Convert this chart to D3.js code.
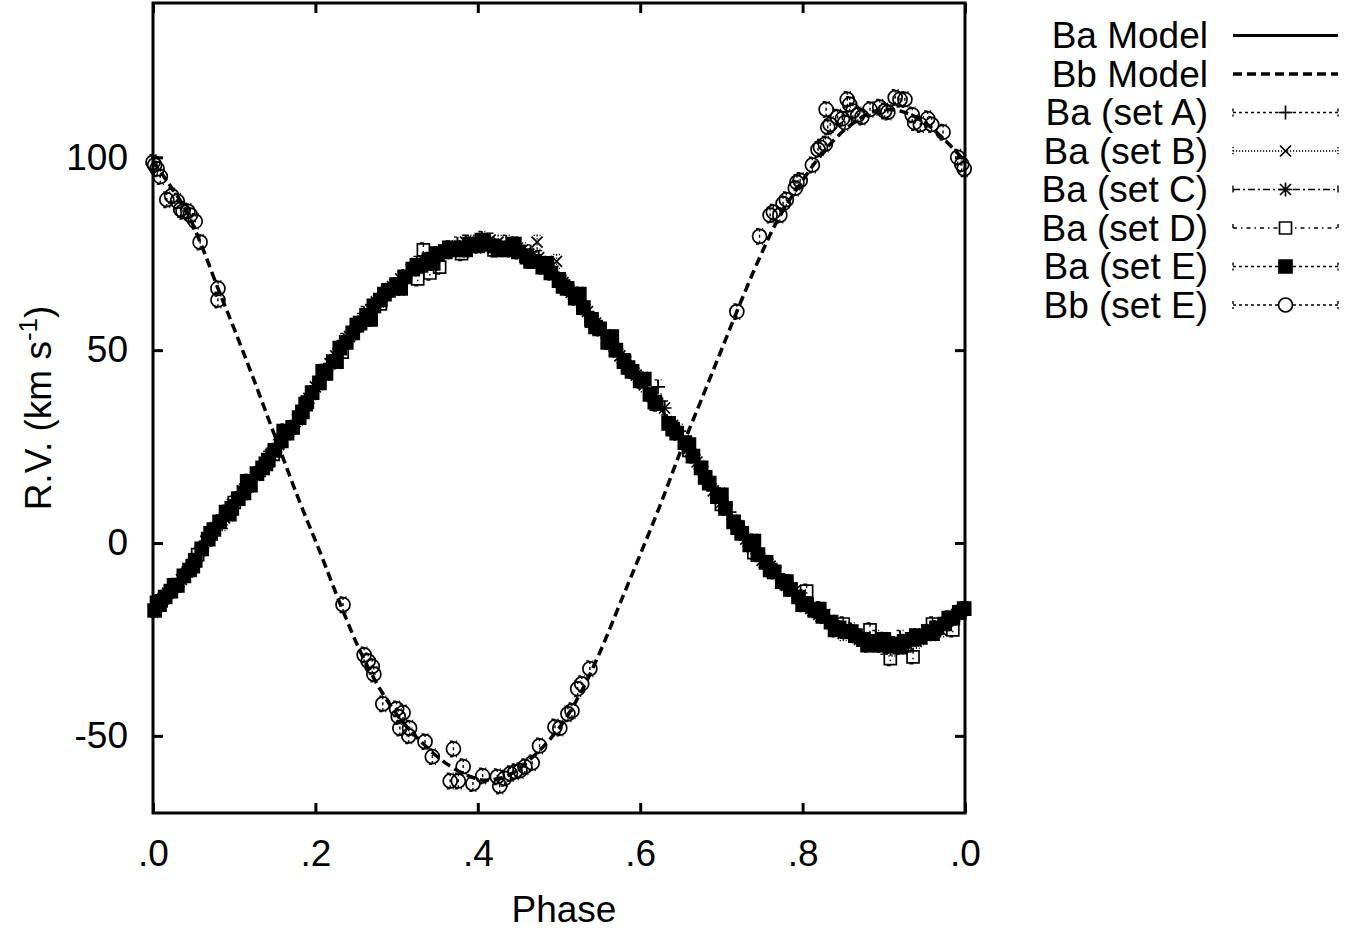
<!DOCTYPE html>
<html>
<head>
<meta charset="utf-8">
<title>Ba / Bb radial velocities</title>
<script src="https://cdnjs.cloudflare.com/ajax/libs/d3/7.8.5/d3.min.js"></script>
<style>
  body { margin: 0; background: #fff; }
  svg text { font-family: "Liberation Sans", Arial, Helvetica, sans-serif; fill: #000; }
</style>
</head>
<body>
<div id="chart"></div>
<script>
// ---------- values ----------
var xTicks = [0, 0.2, 0.4, 0.6, 0.8, 1.0];
var xTickLabels = [".0", ".2", ".4", ".6", ".8", ".0"];
var yTicks = [-50, 0, 50, 100];

var legendNames = ["Ba Model", "Bb Model", "Ba (set A)", "Ba (set B)", "Ba (set C)", "Ba (set D)", "Ba (set E)", "Bb (set E)"];

// model curves
var baModel_phase = [0.00,0.025,0.05,0.075,0.10,0.125,0.154,0.18,0.205,0.23,0.255,0.28,0.304,0.33,0.36,0.39,0.41,0.44,0.47,0.50,0.525,0.55,0.575,0.60,0.625,0.651,0.675,0.698,0.72,0.745,0.77,0.80,0.83,0.86,0.89,0.92,0.95,0.975,1.00];
var baModel_rv    = [-17,-12,-5,2.5,10,17.5,25.5,34,42,49.5,56,62,67,71.5,75,77,77.5,76.5,73.5,68.5,63,56,49.5,42.5,35,27,19.5,12,5,-2,-8.5,-15,-20,-24,-26,-26,-24,-21,-17];

var bbModel_phase = [0.00,0.02,0.04,0.06,0.08,0.10,0.123,0.154,0.18,0.205,0.23,0.255,0.28,0.304,0.33,0.36,0.39,0.41,0.44,0.47,0.50,0.525,0.55,0.579,0.60,0.625,0.651,0.675,0.698,0.72,0.745,0.77,0.80,0.83,0.86,0.89,0.92,0.95,0.975,1.00];
var bbModel_rv    = [99,93,86.5,77,66,55.5,43,25.5,11,-2,-15.5,-28,-38,-45.5,-51.5,-57,-60.5,-61.5,-60,-55,-48,-39.5,-28.5,-13.7,-3,10,24.5,37,49,60.5,73,84,94,102.5,108.5,112,112,109,104.5,99];

// Ba, set A (+)
var baA_phase = [0.005,0.025,0.048,0.07,0.095,0.118,0.14,0.162,0.185,0.21,0.235,0.26,0.285,0.315,0.345,0.375,0.405,0.435,0.465,0.495,0.525,0.555,0.585,0.622,0.648,0.68,0.71,0.74,0.77,0.80,0.83,0.86,0.89,0.92,0.95,0.98];
var baA_rv    = [-16,-12,-5.5,2.5,9.5,16,22,29,35,44.5,52.5,59.5,65,70.5,74.5,77.5,79,78,75.5,70,63,55,46.5,40.5,29,18,8,-1,-8,-14,-19,-22.5,-24.5,-24.5,-23,-19.5];
// Ba, set B (x)
var baB_phase = [0.012,0.035,0.058,0.085,0.11,0.132,0.155,0.178,0.20,0.225,0.25,0.275,0.305,0.335,0.365,0.395,0.425,0.455,0.473,0.497,0.515,0.545,0.575,0.605,0.64,0.67,0.70,0.73,0.76,0.79,0.82,0.85,0.88,0.91,0.94,0.97,0.995];
var baB_rv    = [-14.5,-9.5,-2,5,13.5,18.5,25.5,32,40.5,48.5,56,62.5,68.5,73,76.5,78,78,76,78,73,65,57,48.5,41,30.5,21,10.5,1,-6,-12.5,-18.5,-23.5,-26,-27.5,-25.5,-22.5,-17.5];
// Ba, set C (*)
var baC_phase = [0.018,0.042,0.065,0.088,0.115,0.145,0.17,0.192,0.218,0.242,0.268,0.295,0.325,0.355,0.385,0.415,0.445,0.475,0.505,0.535,0.565,0.595,0.63,0.66,0.69,0.72,0.75,0.78,0.81,0.84,0.87,0.90,0.93,0.96,0.99];
var baC_rv    = [-13,-7.5,0.5,6.5,14.5,23,29.5,37.5,46.5,53.5,60.5,66.5,72.5,75.5,78,78.5,77.5,74,67.5,60,51.5,43.5,35,24.5,13.5,4.5,-4.5,-11,-17,-21.5,-25,-27,-26.5,-22.5,-18.5];
// Ba, set D (open square)
var baD_phase = [0.01,0.055,0.10,0.148,0.19,0.233,0.28,0.326,0.333,0.341,0.353,0.38,0.42,0.46,0.50,0.54,0.58,0.62,0.66,0.70,0.74,0.78,0.805,0.821,0.85,0.883,0.908,0.936,0.96,0.985];
var baD_rv    = [-15,-3,10.5,23,36.5,49.5,62,68.5,76,70,71.5,75,76,74,68.5,57.5,47.5,36,24,10,-2.5,-10.5,-12.5,-17,-21,-22.5,-30,-29.5,-21,-22.5];
// Ba, set E (filled square)
var baE_phase = [0.002,0.008,0.015,0.022,0.030,0.038,0.045,0.052,0.060,0.068,0.075,0.082,0.090,0.097,0.105,0.112,0.120,0.128,0.135,0.142,0.150,0.158,0.165,0.172,0.180,0.188,0.196,0.205,0.213,0.222,0.230,0.238,0.246,0.255,0.263,0.272,0.280,0.290,0.300,0.310,0.320,0.330,0.340,0.350,0.360,0.370,0.380,0.390,0.400,0.410,0.420,0.430,0.440,0.450,0.460,0.470,0.480,0.490,0.500,0.510,0.520,0.530,0.540,0.550,0.560,0.570,0.580,0.590,0.600,0.612,0.618,0.635,0.645,0.655,0.665,0.675,0.685,0.695,0.705,0.715,0.725,0.735,0.745,0.755,0.765,0.775,0.785,0.795,0.805,0.815,0.825,0.835,0.845,0.855,0.865,0.875,0.885,0.895,0.905,0.915,0.925,0.935,0.945,0.955,0.965,0.975,0.985,0.993,0.999,
                 0.005,0.026,0.049,0.071,0.094,0.116,0.139,0.161,0.184,0.209,0.226,0.251,0.268,0.285,0.305,0.325,0.345,0.365,0.385,0.405,0.425,0.445,0.465,0.485,0.505,0.525,0.545,0.565,0.585,0.605,0.640,0.660,0.680,0.700,0.720,0.740,0.760,0.780,0.800,0.820,0.840,0.860,0.880,0.900,0.920,0.940,0.960,0.980];
var baE_rv    = [-17.5,-16,-14,-12.5,-11,-8.5,-7,-4.5,-1.5,1,3.5,5.5,8,9,11.5,13,15,18,19.5,21.5,24,26.5,28.5,30,32.5,36,39,41.5,44,47,50.5,52,54.5,57,59,61.5,63,65.5,67,69,71,72,73.5,75,75.5,76,76.5,77.5,77,77.5,77,76.5,76,75.5,74.5,73,71.5,70,68,66,63.5,61,58,55.5,52,50,47,44.5,42,38.5,36.5,31,28.5,26,22.5,19.5,15.5,12,9,5.5,2.5,-0.5,-3,-5,-7.5,-10,-12,-14,-16,-17.5,-19,-20.5,-22,-23,-24,-25,-25.5,-26.5,-26,-26.5,-25.5,-25,-24.5,-23,-22,-21,-19.5,-18,-17,
                 -15.5,-11,-6,2.5,7.5,16,20.5,29,34,44.5,47,56.5,58,64.5,66,72,72.5,76.5,76,78.5,76,77.5,73,72.5,66.5,64.5,56,53.5,45.5,42.5,29.5,25.5,17,12.5,4,0.5,-7,-10,-16,-17.5,-22.5,-23,-26.5,-25,-27,-24,-23.5,-19.5];
// Bb, set E (circle)
var bbE_phase = [0.000,0.002,0.005,0.009,0.017,0.023,0.030,0.034,0.037,0.043,0.046,0.052,0.058,0.080,0.080,0.234,0.260,0.265,0.270,0.272,0.283,0.300,0.302,0.304,0.308,0.315,0.316,0.335,0.344,0.366,0.370,0.376,0.382,0.394,0.406,0.424,0.427,0.433,0.440,0.446,0.452,0.458,0.467,0.476,0.495,0.501,0.511,0.516,0.523,0.528,0.538,0.719,0.747,0.760,0.764,0.772,0.776,0.780,0.791,0.793,0.797,0.812,0.819,0.822,0.828,0.829,0.831,0.834,0.843,0.849,0.852,0.855,0.858,0.862,0.868,0.873,0.883,0.895,0.901,0.905,0.914,0.920,0.926,0.935,0.938,0.945,0.954,0.959,0.973,0.991,0.996,0.999];
var bbE_rv    = [98.7,98,97,95,89,90,88.6,86.5,86,86,85,83.4,78,66,63,-16,-29,-30.6,-32,-34,-41.7,-43,-45,-48,-44,-50,-48,-51.5,-55.4,-61.7,-53.4,-61.7,-58,-62.4,-60.4,-60.6,-63,-61,-59.8,-59.3,-59,-58,-57,-52.6,-47.7,-48,-44.3,-43.5,-37.8,-36.5,-32.6,60,79.5,85,85.8,85,88,89,92,93.5,94,98,102,102.6,103.4,112.4,107.8,108.5,110.4,110,109,115,113.7,112,111,110.4,112.4,113,112,111.7,115.5,115,115,111,109,108.5,110,108.5,106.5,100,98.2,97];

// one error value per data set (km/s), same order as the sets below
var setErrors = [1.8, 1.8, 1.8, 1.8, 1.8, 2.0];

// ---------- drawing ----------
var W = 1356, H = 932;
var svg = d3.select("#chart").append("svg").attr("width", W).attr("height", H);

var x = d3.scaleLinear().domain([0, 1]).range([153, 965]);
var y = d3.scaleLinear().domain([-70, 140]).range([813, 3]);

var fontSize = 37;

function zip(ph, rv) { return ph.map(function(p, i) { return { p: p, v: rv[i] }; }); }

var line = d3.line()
    .x(function(d) { return x(d.p); })
    .y(function(d) { return y(d.v); })
    .curve(d3.curveCatmullRom.alpha(0.5));

// marker shapes
function markerPath(type) {
  if (type === "plus") return "M-7,0H7M0,-7V7";
  if (type === "cross") return "M-5.5,-5.5L5.5,5.5M-5.5,5.5L5.5,-5.5";
  if (type === "star") return "M-7,0H7M0,-7V7M-5.5,-5.5L5.5,5.5M-5.5,5.5L5.5,-5.5";
  if (type === "square") return "M-6,-6H6V6H-6Z";
  if (type === "fsquare") return "M-6.5,-6.5H6.5V6.5H-6.5Z";
  if (type === "circle") return "M7,0A7,7 0 1,1 -7,0A7,7 0 1,1 7,0Z";
}

var sets = [
  { data: zip(baA_phase, baA_rv), marker: "plus",    dash: "3,3" },
  { data: zip(baB_phase, baB_rv), marker: "cross",   dash: "1.2,1.8" },
  { data: zip(baC_phase, baC_rv), marker: "star",    dash: "7,3,2,3" },
  { data: zip(baD_phase, baD_rv), marker: "square",  dash: "4,4,1.5,4" },
  { data: zip(baE_phase, baE_rv), marker: "fsquare", dash: "3,3" },
  { data: zip(bbE_phase, bbE_rv), marker: "circle",  dash: "3,3" }
];
sets.forEach(function(s, i) { s.err = setErrors[i]; });

// model lines
svg.append("path")
    .datum(zip(baModel_phase, baModel_rv))
    .attr("d", line)
    .attr("fill", "none").attr("stroke", "#000").attr("stroke-width", 3);

svg.append("path")
    .datum(zip(bbModel_phase, bbModel_rv))
    .attr("d", line)
    .attr("fill", "none").attr("stroke", "#000").attr("stroke-width", 3.5)
    .attr("stroke-dasharray", "9,5");

// data points with error bars
sets.forEach(function(s) {
  var g = svg.append("g");
  var pts = g.selectAll("g.pt").data(s.data).enter().append("g")
      .attr("class", "pt")
      .attr("transform", function(d) { return "translate(" + x(d.p) + "," + y(d.v) + ")"; });

  pts.append("path")
      .attr("d", function(d) {
        var dy = y(d.v - s.err) - y(d.v);
        return "M0," + (-dy) + "V" + dy + "M-3.5," + (-dy) + "H3.5M-3.5," + dy + "H3.5";
      })
      .attr("fill", "none").attr("stroke", "#000").attr("stroke-width", 1.4)
      .attr("stroke-dasharray", s.dash);

  pts.append("path")
      .attr("d", markerPath(s.marker))
      .attr("fill", s.marker === "fsquare" ? "#000" : "none")
      .attr("stroke", "#000").attr("stroke-width", 1.7);
});

// frame
svg.append("rect")
    .attr("x", x(0)).attr("y", y(140))
    .attr("width", x(1) - x(0)).attr("height", y(-70) - y(140))
    .attr("fill", "none").attr("stroke", "#000").attr("stroke-width", 3);

// axes (ticks point inwards, mirrored on the top and right)
function styleAxis(g) {
  g.select(".domain").remove();
  g.selectAll(".tick line").attr("stroke", "#000").attr("stroke-width", 3);
  g.selectAll(".tick text").style("font-size", fontSize + "px")
      .style("font-family", "'Liberation Sans', Arial, sans-serif");
}

svg.append("g").attr("transform", "translate(0," + y(-70) + ")")
    .call(d3.axisBottom(x).tickValues(xTicks).tickSizeInner(-10).tickSizeOuter(0).tickPadding(27)
      .tickFormat(function(d, i) { return xTickLabels[i]; }))
    .call(styleAxis);

svg.append("g").attr("transform", "translate(0," + y(140) + ")")
    .call(d3.axisTop(x).tickValues(xTicks).tickSizeInner(-10).tickSizeOuter(0).tickFormat(""))
    .call(styleAxis);

svg.append("g").attr("transform", "translate(" + x(0) + ",0)")
    .call(d3.axisLeft(y).tickValues(yTicks).tickSizeInner(-10).tickSizeOuter(0).tickPadding(25)
      .tickFormat(function(d) { return String(d); }))
    .call(styleAxis);

svg.append("g").attr("transform", "translate(" + x(1) + ",0)")
    .call(d3.axisRight(y).tickValues(yTicks).tickSizeInner(-10).tickSizeOuter(0).tickFormat(""))
    .call(styleAxis);

// axis titles
svg.append("text")
    .attr("x", (x(0) + x(1)) / 2 + 5).attr("y", 922)
    .attr("text-anchor", "middle")
    .style("font-size", fontSize + "px")
    .text("Phase");

var yl = svg.append("text")
    .attr("transform", "translate(51," + ((y(140) + y(-70)) / 2) + ") rotate(-90)")
    .attr("text-anchor", "middle")
    .style("font-size", fontSize + "px");
yl.append("tspan").text("R.V. (km s");
yl.append("tspan").attr("dy", -14).style("font-size", "26px").text("-1");
yl.append("tspan").attr("dy", 14).text(")");

// legend
var legX = 1208, legY0 = 48, legStep = 38.5, sampleX0 = 1233, sampleX1 = 1338;
var legend = svg.append("g");
legendNames.forEach(function(name, i) {
  var by = legY0 + i * legStep;
  var cy = by - 12.5;
  legend.append("text")
      .attr("x", legX).attr("y", by)
      .attr("text-anchor", "end")
      .style("font-size", fontSize + "px")
      .text(name);

  if (i === 0) {
    legend.append("line").attr("x1", sampleX0).attr("x2", sampleX1).attr("y1", cy).attr("y2", cy)
        .attr("stroke", "#000").attr("stroke-width", 3);
  } else if (i === 1) {
    legend.append("line").attr("x1", sampleX0).attr("x2", sampleX1).attr("y1", cy).attr("y2", cy)
        .attr("stroke", "#000").attr("stroke-width", 3.5).attr("stroke-dasharray", "9,5");
  } else {
    var s = sets[i - 2];
    legend.append("path")
        .attr("d", "M" + sampleX0 + "," + cy + "H" + sampleX1 +
                   "M" + sampleX0 + "," + (cy - 4) + "V" + (cy + 4) +
                   "M" + sampleX1 + "," + (cy - 4) + "V" + (cy + 4))
        .attr("fill", "none").attr("stroke", "#000").attr("stroke-width", 1.4)
        .attr("stroke-dasharray", s.dash);
    legend.append("path")
        .attr("transform", "translate(" + ((sampleX0 + sampleX1) / 2) + "," + cy + ")")
        .attr("d", markerPath(s.marker))
        .attr("fill", s.marker === "fsquare" ? "#000" : (s.marker === "square" || s.marker === "circle" ? "#fff" : "none"))
        .attr("stroke", "#000").attr("stroke-width", 1.7);
  }
});
</script>
</body>
</html>
